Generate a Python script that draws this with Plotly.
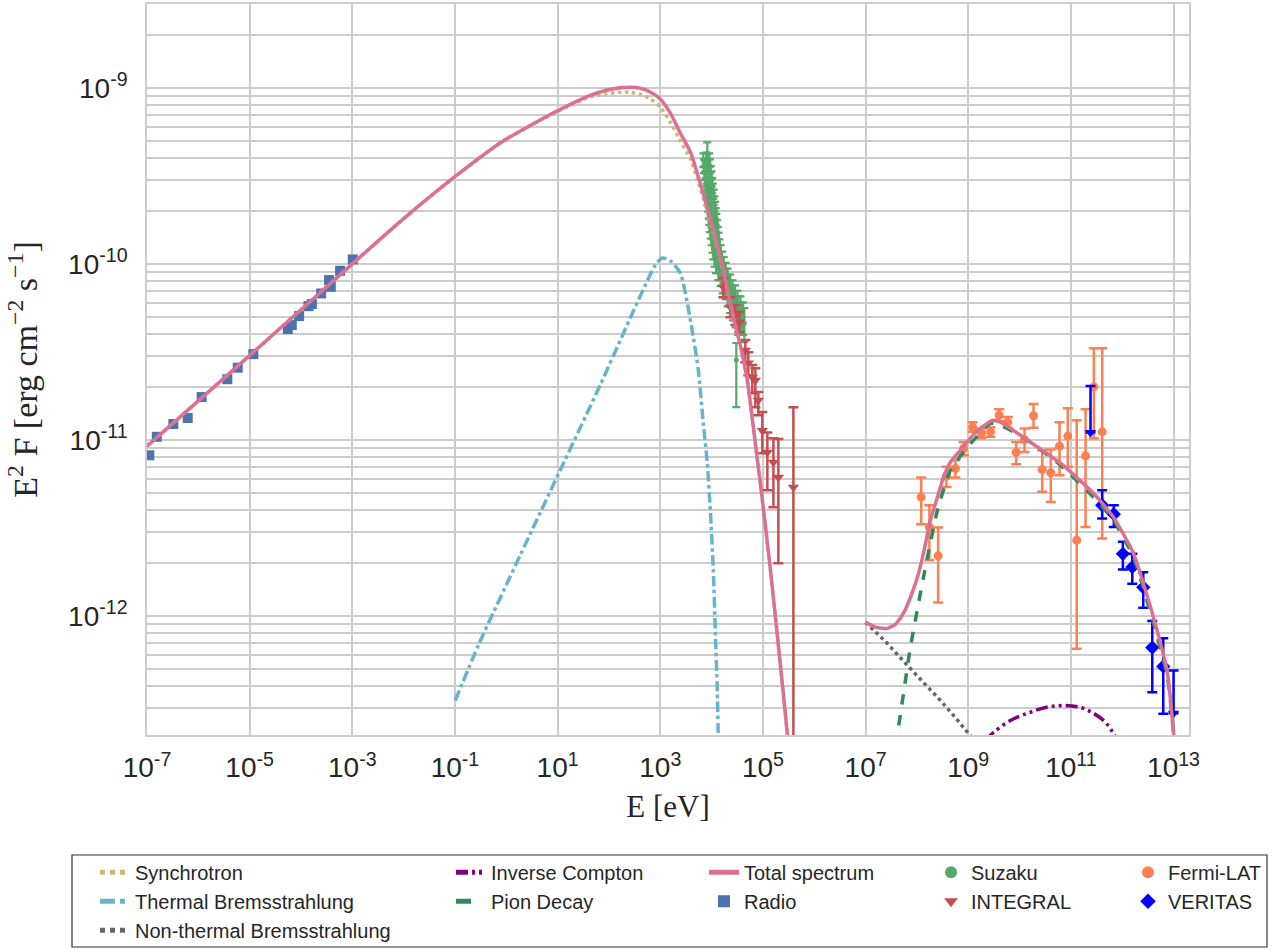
import math
import plotly.graph_objects as go

# ---------------- data ----------------
# Radio (blue squares)
radio_E = [1.11e-7, 1.55e-7, 3.26e-7, 6.21e-7, 1.16e-6, 3.67e-6, 5.86e-6, 1.18e-5,
           5.53e-5, 6.62e-5, 9.19e-5, 1.40e-4, 1.63e-4, 2.47e-4, 3.53e-4, 3.81e-4,
           5.78e-4, 1.02e-3]
radio_F = [8.17e-12, 1.04e-11, 1.23e-11, 1.33e-11, 1.75e-11, 2.21e-11, 2.57e-11, 3.07e-11,
           4.26e-11, 4.49e-11, 5.05e-11, 5.75e-11, 5.91e-11, 6.79e-11, 8.09e-11, 7.41e-11,
           9.14e-11, 1.06e-10]
radio_rel_err = [0.03] * 18

# Suzaku (green)
suzaku_E = [8.24e3,
            6.9e3, 7.9e3, 9.0e3, 7.1e3, 8.1e3, 9.3e3, 7.3e3, 8.4e3, 9.6e3, 7.5e3, 8.7e3, 1.0e4,
            7.8e3, 9.0e3, 1.03e4, 8.0e3, 9.2e3, 1.06e4, 8.2e3, 9.5e3, 1.1e4, 8.5e3, 9.8e3, 1.13e4,
            8.8e3, 1.0e4, 1.17e4, 9.0e3, 1.04e4, 1.2e4, 9.3e3, 1.07e4, 1.24e4, 9.6e3, 1.1e4, 1.28e4,
            1.0e4, 1.14e4, 1.32e4, 1.04e4, 1.18e4, 1.37e4, 1.08e4, 1.23e4, 1.42e4, 1.14e4, 1.3e4, 1.5e4,
            1.22e4, 1.4e4, 1.6e4, 1.35e4, 1.52e4, 1.72e4, 1.5e4, 1.68e4, 1.88e4, 1.65e4, 1.85e4, 2.05e4,
            1.85e4, 2.05e4, 2.3e4, 2.05e4, 2.3e4, 2.55e4, 2.3e4, 2.55e4, 2.85e4, 2.6e4, 2.9e4, 3.2e4,
            2.95e4, 3.3e4, 3.65e4, 3.3e4, 3.7e4, 4.1e4,
            4.34e4, 3.03e4]
suzaku_F = [4.27e-10,
            3.9e-10, 3.9e-10, 3.9e-10, 3.6e-10, 3.6e-10, 3.6e-10, 3.3e-10, 3.3e-10, 3.3e-10,
            3.05e-10, 3.05e-10, 3.05e-10, 2.8e-10, 2.8e-10, 2.8e-10, 2.6e-10, 2.6e-10, 2.6e-10,
            2.4e-10, 2.4e-10, 2.4e-10, 2.2e-10, 2.2e-10, 2.2e-10, 2.03e-10, 2.03e-10, 2.03e-10,
            1.87e-10, 1.87e-10, 1.87e-10, 1.72e-10, 1.72e-10, 1.72e-10, 1.58e-10, 1.58e-10, 1.58e-10,
            1.45e-10, 1.45e-10, 1.45e-10, 1.33e-10, 1.33e-10, 1.33e-10, 1.22e-10, 1.22e-10, 1.22e-10,
            1.12e-10, 1.12e-10, 1.12e-10, 1.03e-10, 1.03e-10, 1.03e-10, 9.5e-11, 9.5e-11, 9.5e-11,
            8.8e-11, 8.8e-11, 8.8e-11, 8.1e-11, 8.1e-11, 8.1e-11, 7.5e-11, 7.5e-11, 7.5e-11,
            6.9e-11, 6.9e-11, 6.9e-11, 6.4e-11, 6.4e-11, 6.4e-11, 5.9e-11, 5.9e-11, 5.9e-11,
            5.45e-11, 5.45e-11, 5.45e-11, 5.0e-11, 5.0e-11, 5.0e-11,
            4.6e-11, 2.84e-11]
suzaku_rel_hi = [0.15,
                 0.09, 0.1, 0.09, 0.09, 0.1, 0.09, 0.09, 0.1, 0.09, 0.1, 0.1, 0.1, 0.1, 0.1, 0.1,
                 0.1, 0.1, 0.1, 0.1, 0.1, 0.1, 0.1, 0.1, 0.1, 0.11, 0.11, 0.11, 0.11, 0.11, 0.11,
                 0.12, 0.12, 0.12, 0.12, 0.12, 0.12, 0.12, 0.12, 0.12, 0.13, 0.13, 0.13, 0.13, 0.13,
                 0.13, 0.14, 0.14, 0.14, 0.14, 0.14, 0.14, 0.15, 0.15, 0.15, 0.15, 0.15, 0.15, 0.16,
                 0.16, 0.16, 0.16, 0.16, 0.16, 0.17, 0.17, 0.17, 0.18, 0.18, 0.18, 0.19, 0.19, 0.19,
                 0.2, 0.2, 0.2, 0.21, 0.21, 0.21,
                 0.22, 0.25]
suzaku_rel_lo = [0.13,
                 0.09, 0.1, 0.09, 0.09, 0.1, 0.09, 0.09, 0.1, 0.09, 0.1, 0.1, 0.1, 0.1, 0.1, 0.1,
                 0.1, 0.1, 0.1, 0.1, 0.1, 0.1, 0.1, 0.1, 0.1, 0.11, 0.11, 0.11, 0.11, 0.11, 0.11,
                 0.12, 0.12, 0.12, 0.12, 0.12, 0.12, 0.12, 0.12, 0.12, 0.13, 0.13, 0.13, 0.13, 0.13,
                 0.13, 0.14, 0.14, 0.14, 0.14, 0.14, 0.14, 0.15, 0.15, 0.15, 0.15, 0.15, 0.15, 0.16,
                 0.16, 0.16, 0.16, 0.16, 0.16, 0.17, 0.17, 0.17, 0.18, 0.18, 0.18, 0.19, 0.19, 0.19,
                 0.2, 0.2, 0.2, 0.21, 0.21, 0.21,
                 0.22, 0.46]

# INTEGRAL (red triangles)
integral_E = [1.69e4, 2.32e4, 2.90e4, 3.47e4, 4.54e4, 5.19e4, 6.21e4, 7.11e4, 8.13e4,
              9.73e4, 1.22e5, 1.60e5, 2.00e5, 3.92e5]
integral_F = [7.38e-11, 5.68e-11, 5.11e-11, 4.67e-11, 3.23e-11, 2.73e-11, 2.27e-11, 2.18e-11,
              1.68e-11, 1.13e-11, 8.50e-12, 7.46e-12, 6.13e-12, 5.37e-12]
integral_F_hi = [8.30e-11, 6.47e-11, 5.83e-11, 5.32e-11, 3.69e-11, 3.15e-11, 2.66e-11, 2.55e-11,
                 1.87e-11, 1.44e-11, 1.10e-11, 1.02e-11, 1.01e-11, 1.53e-11]
integral_F_lo = [6.47e-11, 4.98e-11, 4.49e-11, 4.09e-11, 2.76e-11, 2.33e-11, 1.84e-11, 1.53e-11,
                 1.38e-11, 8.39e-12, 5.17e-12, 4.14e-12, 1.99e-12, 1.0e-14]

# Fermi-LAT (coral circles)
fermi_E = [1.21e8, 1.75e8, 2.59e8, 3.76e8, 5.62e8, 8.17e8, 1.22e9, 1.81e9, 2.71e9, 4.00e9,
           5.89e9, 8.59e9, 1.25e10, 1.87e10, 2.76e10, 4.06e10, 6.00e10, 8.71e10, 1.30e11,
           1.93e11, 2.80e11, 4.07e11]
fermi_F = [4.73e-12, 3.20e-12, 2.19e-12, 6.21e-12, 6.87e-12, 8.93e-12, 1.18e-11, 1.09e-11,
           1.11e-11, 1.38e-11, 1.26e-11, 8.50e-12, 1.00e-11, 1.37e-11, 6.78e-12, 6.49e-12,
           9.20e-12, 1.05e-11, 2.69e-12, 8.10e-12, 2.00e-11, 1.11e-11]
fermi_F_hi = [6.10e-12, 4.25e-12, 3.17e-12, 7.02e-12, 7.66e-12, 9.73e-12, 1.26e-11, 1.16e-11,
              1.18e-11, 1.49e-11, 1.35e-11, 9.73e-12, 1.16e-11, 1.60e-11, 8.73e-12, 8.81e-12,
              1.26e-11, 1.51e-11, 1.29e-11, 1.49e-11, 3.32e-11, 3.32e-11]
fermi_F_lo = [3.31e-12, 2.07e-12, 1.19e-12, 5.40e-12, 6.10e-12, 8.17e-12, 1.11e-11, 1.02e-11,
              1.04e-11, 1.28e-11, 1.17e-11, 7.26e-12, 8.53e-12, 1.17e-11, 5.06e-12, 4.43e-12,
              6.29e-12, 7.02e-12, 6.50e-13, 3.20e-12, 1.02e-11, 2.75e-12]

# VERITAS (blue diamonds)
veritas_E = [4.07e11, 6.86e11, 1.03e12, 1.57e12, 2.57e12, 3.85e12, 6.30e12]
veritas_F = [4.25e-12, 3.78e-12, 2.25e-12, 1.89e-12, 1.45e-12, 6.59e-13, 5.15e-13]
veritas_F_hi = [5.17e-12, 4.25e-12, 2.63e-12, 2.25e-12, 1.77e-12, 9.33e-13, 7.46e-13]
veritas_F_lo = [3.57e-12, 3.20e-12, 1.83e-12, 1.52e-12, 1.11e-12, 3.68e-13, 2.77e-13]
# VERITAS upper limits (arrow tip, top of bar)
veritas_ul_E = [2.41e11, 1.0e13]
veritas_ul_tip = [1.10e-11, 2.79e-13]
veritas_ul_top = [2.02e-11, 4.89e-13]

# Model curves
total_lo_E = [1.00e-7, 1.02e-5, 1.04e-3, 8.55e-3, 0.101, 0.760, 4.58, 14.1, 43.2, 84.7,
              152, 260, 407, 638, 1000, 1567, 2.45e3, 3.85e3, 5.26e3, 1.08e4, 1.69e4, 2.65e4,
              3.62e4, 4.97e4, 7.11e4, 1.02e5, 1.46e5, 2.00e5, 2.73e5, 3.13e5]
total_lo_F = [9.20e-12, 3.03e-11, 1.01e-10, 1.74e-10, 3.14e-10, 4.87e-10, 6.58e-10, 7.80e-10,
              9.06e-10, 9.67e-10, 1.00e-9, 1.01e-9, 9.96e-10, 9.49e-10, 8.66e-10,
              7.21e-10, 5.55e-10, 4.33e-10, 3.28e-10, 1.56e-10, 9.22e-11, 4.98e-11, 3.45e-11,
              2.18e-11, 9.57e-12, 4.08e-12, 1.63e-12, 6.79e-13, 2.79e-13, 1.83e-13]
sync_E = [1.00e-7, 1.02e-5, 1.04e-3, 8.55e-3, 0.101, 0.760, 4.58, 14.1, 43.2, 84.7,
          152, 260, 407, 638, 1000, 1567, 2.45e3, 3.85e3, 5.26e3, 1.08e4, 1.69e4, 2.65e4,
          3.62e4, 4.97e4, 7.11e4, 1.02e5, 1.46e5, 2.00e5, 2.73e5, 3.13e5]
sync_F = [9.20e-12, 3.03e-11, 1.01e-10, 1.74e-10, 3.14e-10, 4.87e-10, 6.55e-10, 7.72e-10,
          8.90e-10, 9.25e-10, 9.45e-10, 9.45e-10, 9.20e-10, 8.70e-10, 7.80e-10,
          6.40e-10, 5.00e-10, 3.95e-10, 3.05e-10, 1.50e-10, 9.10e-11, 4.95e-11, 3.43e-11,
          2.17e-11, 9.55e-12, 4.08e-12, 1.63e-12, 6.79e-13, 2.79e-13, 1.83e-13]

thermal_E = [0.101, 0.297, 1.87, 11.2, 67.6, 260, 511, 800, 1094, 1567, 2.45e3, 3.36e3, 4.40e3,
             5.51e3, 6.89e3, 8.24e3, 9.44e3, 1.08e4, 1.18e4, 1.29e4, 1.35e4]
thermal_F = [3.30e-13, 6.97e-13, 2.21e-12, 6.71e-12, 2.05e-11, 4.92e-11, 7.57e-11, 9.84e-11,
             1.08e-10, 1.04e-10, 8.87e-11, 5.98e-11, 3.83e-11, 2.49e-11, 1.24e-11, 7.36e-12,
             3.98e-12, 1.81e-12, 8.26e-13, 3.77e-13, 1.95e-13]

nonthermal_E = [1.0e7, 2.43e7, 6.53e7, 1.47e8, 2.87e8, 5.62e8, 1.01e9, 4.25e9]
nonthermal_F = [9.17e-13, 7.15e-13, 5.22e-13, 4.07e-13, 3.30e-13, 2.64e-13, 2.14e-13, 1.41e-13]

ic_E = [2.16e9, 3.10e9, 6.65e9, 1.43e10, 3.20e10, 7.18e10, 1.54e11, 2.76e11, 4.72e11, 6.76e11, 9.27e11]
ic_F = [1.95e-13, 2.17e-13, 2.54e-13, 2.79e-13, 3.01e-13, 3.09e-13, 3.01e-13, 2.79e-13, 2.48e-13,
        2.14e-13, 1.83e-13]

pion_E = [3.48e7, 4.17e7, 7.46e7, 1.34e8, 2.51e8, 4.50e8, 9.64e8, 2.71e9, 4.25e9, 1.43e10,
          6.27e10, 2.76e11, 6.76e11, 1.66e12, 4.07e12, 7.64e12, 1.0e13, 1.09e13]
pion_F = [1.83e-13, 2.17e-13, 6.61e-13, 1.65e-12, 3.98e-12, 6.71e-12, 9.08e-12, 1.24e-11,
          1.21e-11, 9.95e-12, 7.17e-12, 4.71e-12, 3.49e-12, 2.15e-12, 9.05e-13, 4.46e-13,
          2.17e-13, 1.83e-13]

total_hi_E = [1.0e7, 1.63e7, 2.66e7, 3.81e7, 5.46e7, 7.46e7, 1.02e8, 1.34e8, 1.83e8, 2.51e8,
              3.29e8, 4.50e8, 7.05e8, 1.38e9, 2.96e9, 4.25e9, 1.43e10, 6.27e10, 2.76e11, 6.76e11,
              1.66e12, 4.07e12, 7.64e12, 1.0e13, 1.09e13]
total_hi_F = [9.17e-13, 8.59e-13, 8.48e-13, 8.93e-13, 1.03e-12, 1.27e-12, 1.65e-12, 2.26e-12,
              3.49e-12, 4.71e-12, 6.13e-12, 7.46e-12, 8.73e-12, 1.10e-11, 1.29e-11, 1.26e-11,
              9.95e-12, 7.36e-12, 4.97e-12, 3.63e-12, 2.26e-12, 9.79e-13, 4.70e-13, 2.17e-13,
              1.83e-13]

x_tick_exps = [-7, -5, -3, -1, 1, 3, 5, 7, 9, 11, 13]
y_tick_exps = [-12, -11, -10, -9]

# ---------------- styling constants ----------------
C_SYNC = "#CCB974"
C_THERM = "#64B5CD"
C_NONTH = "#666666"
C_IC = "#800080"
C_PION = "#2E8B57"
C_TOTAL = "#DB7093"
C_RADIO = "#4C72B0"
C_SUZAKU = "#55A868"
C_INTEGRAL = "#C44E52"
C_FERMI = "#FF7F50"
C_VERITAS = "#0000FF"
TXT = "#262626"
GRID = "#cccccc"

fig = go.Figure()

# --- data traces ---
fig.add_trace(go.Scatter(
    x=radio_E, y=radio_F, mode="markers", name="Radio", legend="legend3", legendrank=2,
    marker=dict(symbol="square", size=10, color=C_RADIO),
    error_y=dict(type="data", array=[f * r for f, r in zip(radio_F, radio_rel_err)],
                 color=C_RADIO, thickness=1.5, width=3)))

fig.add_trace(go.Scatter(
    x=suzaku_E, y=suzaku_F, mode="markers", name="Suzaku", legend="legend4", legendrank=1,
    marker=dict(symbol="circle", size=5, color=C_SUZAKU),
    error_y=dict(type="data", symmetric=False,
                 array=[f * r for f, r in zip(suzaku_F, suzaku_rel_hi)],
                 arrayminus=[f * r for f, r in zip(suzaku_F, suzaku_rel_lo)],
                 color=C_SUZAKU, thickness=2.2, width=4)))

fig.add_trace(go.Scatter(
    x=integral_E, y=integral_F, mode="markers", name="INTEGRAL", legend="legend4", legendrank=2,
    marker=dict(symbol="triangle-down", size=10, color=C_INTEGRAL),
    error_y=dict(type="data", symmetric=False,
                 array=[h - f for h, f in zip(integral_F_hi, integral_F)],
                 arrayminus=[f - l for f, l in zip(integral_F, integral_F_lo)],
                 color=C_INTEGRAL, thickness=2.5, width=5)))

fig.add_trace(go.Scatter(
    x=fermi_E, y=fermi_F, mode="markers", name="Fermi-LAT", legend="legend5", legendrank=1,
    marker=dict(symbol="circle", size=9, color=C_FERMI),
    error_y=dict(type="data", symmetric=False,
                 array=[h - f for h, f in zip(fermi_F_hi, fermi_F)],
                 arrayminus=[f - l for f, l in zip(fermi_F, fermi_F_lo)],
                 color=C_FERMI, thickness=2.5, width=5)))

fig.add_trace(go.Scatter(
    x=veritas_E, y=veritas_F, mode="markers", name="VERITAS", legend="legend5", legendrank=2,
    legendgroup="veritas",
    marker=dict(symbol="diamond", size=11, color=C_VERITAS),
    error_y=dict(type="data", symmetric=False,
                 array=[h - f for h, f in zip(veritas_F_hi, veritas_F)],
                 arrayminus=[f - l for f, l in zip(veritas_F, veritas_F_lo)],
                 color=C_VERITAS, thickness=2.5, width=5)))

fig.add_trace(go.Scatter(
    x=veritas_ul_E, y=veritas_ul_tip, mode="markers", name="VERITAS UL", legend="legend5",
    legendgroup="veritas", showlegend=False,
    marker=dict(symbol="triangle-down", size=10, color=C_VERITAS),
    error_y=dict(type="data", symmetric=False,
                 array=[t - p for t, p in zip(veritas_ul_top, veritas_ul_tip)],
                 arrayminus=[0, 0], color=C_VERITAS, thickness=2.5, width=5)))

# --- model curves ---
fig.add_trace(go.Scatter(x=thermal_E, y=thermal_F, mode="lines", name="Thermal Bremsstrahlung",
                         legend="legend", legendrank=2,
                         line=dict(color=C_THERM, width=3.5, dash="dashdot", shape="spline", smoothing=0.7)))
fig.add_trace(go.Scatter(x=nonthermal_E, y=nonthermal_F, mode="lines", name="Non-thermal Bremsstrahlung",
                         legend="legend", legendrank=3, line=dict(color=C_NONTH, width=3.5, dash="dot")))
fig.add_trace(go.Scatter(x=ic_E, y=ic_F, mode="lines", name="Inverse Compton", legend="legend2",
                         legendrank=1,
                         line=dict(color=C_IC, width=3.5, dash="12px,4px,3px,4px,3px,4px", shape="spline")))
fig.add_trace(go.Scatter(x=pion_E, y=pion_F, mode="lines", name="Pion Decay", legend="legend2",
                         legendrank=2, line=dict(color=C_PION, width=3.5, dash="dash", shape="spline",
                                                 smoothing=0.5)))
fig.add_trace(go.Scatter(x=sync_E, y=sync_F, mode="lines", name="Synchrotron", legend="legend",
                         legendrank=1, line=dict(color=C_SYNC, width=3.5, dash="dot", shape="spline",
                                                 smoothing=0.5)))
fig.add_trace(go.Scatter(x=total_lo_E + [None] + total_hi_E, y=total_lo_F + [None] + total_hi_F,
                         mode="lines", name="Total spectrum", legend="legend3", legendrank=1,
                         line=dict(color=C_TOTAL, width=3.5, shape="spline", smoothing=0.5)))

# ---------------- layout ----------------
W, H = 1282, 951
L, R, T, B = 147, 93, 4, 216
PW, PH = W - L - R, H - T - B
Y_MIN, Y_MAX = 2.1e-13, 3.0e-9


def px2paper_x(px):
    return (px - L) / PW


def px2paper_y(py):
    return (H - B - py) / PH


leg_font = dict(family="Liberation Sans, Arial, sans-serif", size=20, color=TXT)
leg_y = px2paper_y(852.7)
legend_common = dict(orientation="v", xanchor="left", yanchor="top", y=leg_y,
                     bgcolor="rgba(0,0,0,0)", borderwidth=0, font=leg_font,
                     tracegroupgap=0, itemwidth=30, traceorder="normal", itemsizing="constant")

y_minor_vals = []
for e in range(-13, -8):
    for m in range(2, 10):
        v = m * 10.0 ** e
        if Y_MIN <= v <= Y_MAX:
            y_minor_vals.append(v)

x_tickvals = [10.0 ** e for e in x_tick_exps]
x_ticktext = [f"10<sup>{e}</sup>" for e in x_tick_exps]
y_tickvals = [10.0 ** e for e in y_tick_exps]
y_ticktext = [f"10<sup>{e}</sup>" for e in y_tick_exps]

legend_box = dict(type="rect", xref="paper", yref="paper",
                  x0=px2paper_x(72), x1=px2paper_x(1267),
                  y0=px2paper_y(947), y1=px2paper_y(855),
                  line=dict(color="#333333", width=1.2), fillcolor="rgba(0,0,0,0)", layer="above")

fig.update_layout(
    width=W, height=H,
    margin=dict(l=L, r=R, t=T, b=B, autoexpand=False),
    paper_bgcolor="white", plot_bgcolor="white",
    font=dict(family="Liberation Sans, Arial, sans-serif", color=TXT),
    legend=dict(legend_common, x=px2paper_x(95)),
    legend2=dict(legend_common, x=px2paper_x(451)),
    legend3=dict(legend_common, x=px2paper_x(704)),
    legend4=dict(legend_common, x=px2paper_x(931)),
    legend5=dict(legend_common, x=px2paper_x(1128)),
    xaxis=dict(type="log", range=[-7, 13.301], tickmode="array", tickvals=x_tickvals, ticktext=x_ticktext,
               showgrid=True, gridcolor=GRID, gridwidth=1.6, zeroline=False,
               showline=True, linecolor=GRID, linewidth=1.6, mirror=True, ticks="",
               ticklabelstandoff=7,
               tickfont=dict(size=28, color=TXT),
               title=dict(text="E [eV]", font=dict(family="Liberation Serif, Times New Roman, serif",
                                                   size=31, color=TXT), standoff=13)),
    yaxis=dict(type="log", range=[math.log10(Y_MIN), math.log10(Y_MAX)], tickmode="array",
               tickvals=y_tickvals, ticktext=y_ticktext,
               showgrid=True, gridcolor=GRID, gridwidth=1.6, zeroline=False,
               showline=True, linecolor=GRID, linewidth=1.6, mirror=True, ticks="",
               ticklabelstandoff=12,
               minor=dict(tickmode="array", tickvals=y_minor_vals, showgrid=True,
                          gridcolor=GRID, gridwidth=1.6, ticks=""),
               tickfont=dict(size=28, color=TXT),
               title=dict(text="E<sup>2</sup> F [erg cm<sup>\u22122</sup> s<sup>\u22121</sup>]",
                          font=dict(family="Liberation Serif, Times New Roman, serif",
                                    size=34, color=TXT), standoff=20)),
    shapes=[legend_box],
)

fig.write_html("out.html", config={"displayModeBar": False},
               post_script="document.body.style.margin='0';document.body.style.overflow='hidden';")
